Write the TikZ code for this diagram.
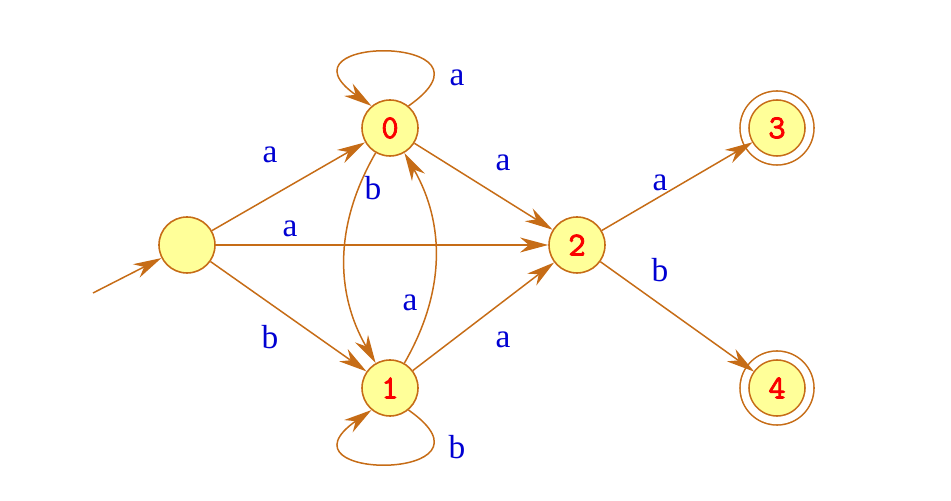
\documentclass[tikz,border=0pt]{standalone}
\usepackage{fontspec}
\usepackage{tikz}
\usetikzlibrary{arrows.meta}
\newfontfamily\labfont{Liberation Serif}
\newfontfamily\numfont[FakeBold=2.5]{Latin Modern Mono}
\definecolor{edgecol}{RGB}{198,108,22}
\definecolor{statefill}{RGB}{255,255,153}
\definecolor{labcol}{RGB}{0,0,210}
\definecolor{numcol}{RGB}{250,0,0}
\begin{document}
\begin{tikzpicture}[
  state/.style={circle,draw=edgecol,fill=statefill,line width=0.9pt,minimum size=1.12cm,inner sep=0pt,
    font=\fontsize{19}{21}\selectfont\numfont,text=numcol},
  accepting/.style={state,minimum size=1.3cm,double=white,double distance=4.2pt,outer sep=-2.5pt},
  trans/.style={draw=edgecol,line width=0.85pt,-{Stealth[length=16pt,width=8.5pt,inset=5pt]}},
  lab/.style={font=\fontsize{19}{21}\selectfont\labfont,text=labcol}]
\useasboundingbox (0,0) rectangle (19.02,10.02);

\node[state] (s) at (3.74cm,5.12cm) {};
\node[state] (q0) at (7.8cm,7.46cm) {0};
\node[state] (q1) at (7.8cm,2.26cm) {1};
\node[state] (q2) at (11.54cm,5.12cm) {2};
\node[accepting] (q3) at (15.54cm,7.46cm) {3};
\node[accepting] (q4) at (15.54cm,2.26cm) {4};
\coordinate (init) at (1.86cm,4.16cm);

\draw[trans] (init) -- (s);
\draw[trans] (s) -- (q0);
\draw[trans] (s) -- (q2);
\draw[trans] (s) -- (q1);
\draw[trans] (q0) -- (q2);
\draw[trans] (q1) -- (q2);
\draw[trans] (q2) -- (q3);
\draw[trans] (q2) -- (q4);
\draw[trans] (q0) to[bend right=30] (q1);
\draw[trans] (q1) to[bend right=30] (q0);
\draw[trans] (q0.50) .. controls +(35:2.5cm) and +(145:2.5cm) .. (q0.130);
\draw[trans] (q1.-50) .. controls +(-35:2.5cm) and +(-145:2.5cm) .. (q1.-130);

\node[lab] (ls0) at (5.4cm,6.92cm) {a};
\node[lab] (ls2) at (5.8cm,5.44cm) {a};
\node[lab] (ls1) at (5.4cm,3.28cm) {b};
\node[lab] (l00) at (9.14cm,8.46cm) {a};
\node[lab] (l01) at (7.46cm,6.26cm) {b};
\node[lab] (l10) at (8.2cm,3.96cm) {a};
\node[lab] (l02) at (10.06cm,6.76cm) {a};
\node[lab] (l12) at (10.06cm,3.22cm) {a};
\node[lab] (l11) at (9.14cm,1.08cm) {b};
\node[lab] (l23) at (13.2cm,6.36cm) {a};
\node[lab] (l24) at (13.2cm,4.62cm) {b};
\end{tikzpicture}
\end{document}
